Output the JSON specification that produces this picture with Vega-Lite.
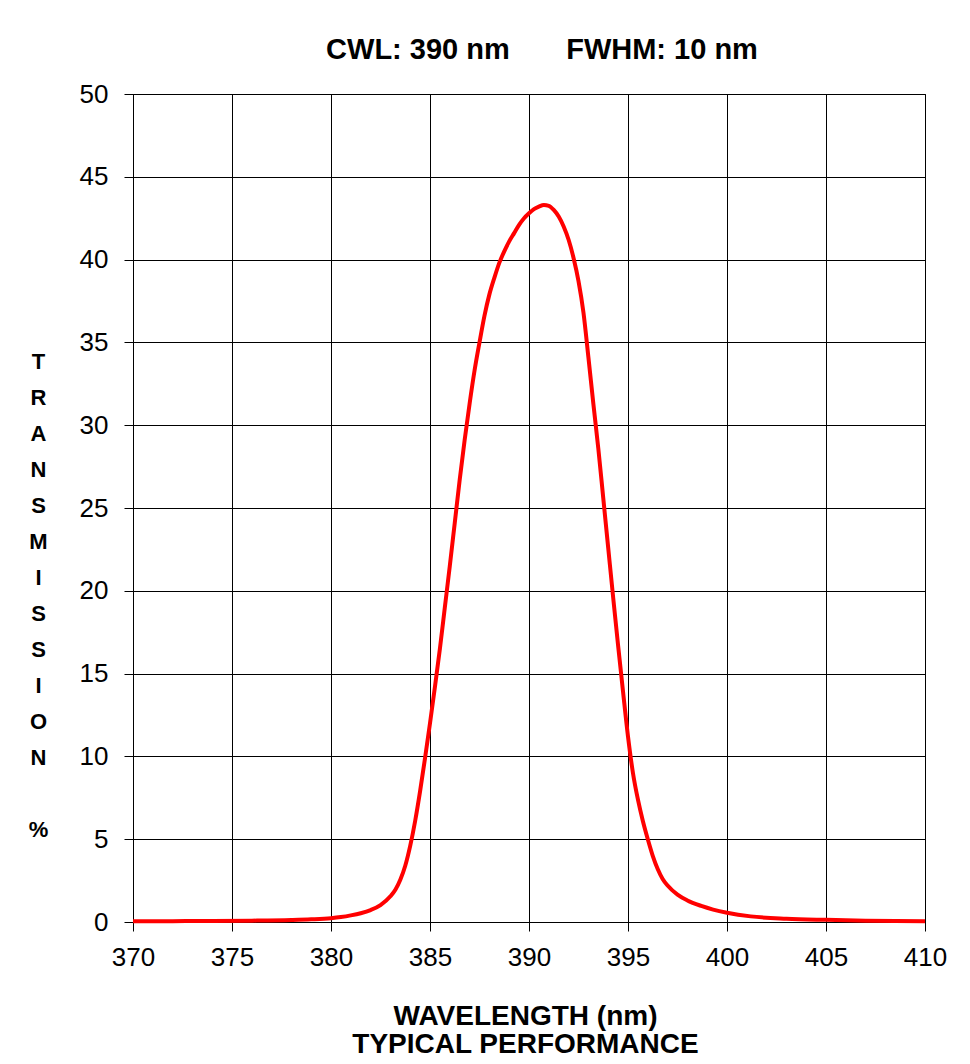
{
  "$schema": "https://vega.github.io/schema/vega-lite/v6.json",
  "width": 792,
  "height": 828,
  "autosize": {"type": "none"},
  "padding": {"left": 133, "top": 94, "right": 45, "bottom": 142},
  "background": "white",
  "title": {
    "text": "CWL: 390 nm\u00a0\u00a0\u00a0\u00a0\u00a0\u00a0\u00a0FWHM: 10 nm",
    "font": "Liberation Sans",
    "fontSize": 29,
    "fontWeight": "bold",
    "color": "black",
    "offset": 16,
    "dx": 13
  },
  "config": {
    "view": {"stroke": "black", "strokeWidth": 1},
    "axis": {
      "labelFont": "Liberation Sans",
      "labelFontSize": 26,
      "labelColor": "black",
      "titleFont": "Liberation Sans",
      "titleFontWeight": "bold",
      "titleColor": "black",
      "gridColor": "black",
      "gridOpacity": 1,
      "gridWidth": 1,
      "domainColor": "black",
      "tickColor": "black",
      "tickSize": 9
    }
  },
  "data": {
    "values": [
      {"wl": 370, "t": 0.04},
      {"wl": 372, "t": 0.05},
      {"wl": 374, "t": 0.06},
      {"wl": 376, "t": 0.08},
      {"wl": 378, "t": 0.12},
      {"wl": 379, "t": 0.16},
      {"wl": 380, "t": 0.23},
      {"wl": 380.5, "t": 0.3},
      {"wl": 381, "t": 0.4},
      {"wl": 381.5, "t": 0.53},
      {"wl": 382, "t": 0.72},
      {"wl": 382.5, "t": 1.02},
      {"wl": 383, "t": 1.55},
      {"wl": 383.25, "t": 1.95},
      {"wl": 383.5, "t": 2.55},
      {"wl": 383.75, "t": 3.4},
      {"wl": 384, "t": 4.6},
      {"wl": 384.25, "t": 6.1},
      {"wl": 384.5, "t": 7.9},
      {"wl": 384.75, "t": 9.9},
      {"wl": 385, "t": 12.0},
      {"wl": 385.25, "t": 14.2},
      {"wl": 385.5, "t": 16.5},
      {"wl": 385.75, "t": 19.0},
      {"wl": 386, "t": 21.5},
      {"wl": 386.25, "t": 24.1},
      {"wl": 386.5, "t": 26.7},
      {"wl": 386.75, "t": 29.1},
      {"wl": 387, "t": 31.3},
      {"wl": 387.25, "t": 33.3},
      {"wl": 387.5, "t": 35.0},
      {"wl": 387.75, "t": 36.6},
      {"wl": 388, "t": 37.9},
      {"wl": 388.25, "t": 38.9},
      {"wl": 388.5, "t": 39.8},
      {"wl": 388.75, "t": 40.5},
      {"wl": 389, "t": 41.1},
      {"wl": 389.25, "t": 41.6},
      {"wl": 389.5, "t": 42.1},
      {"wl": 389.75, "t": 42.5},
      {"wl": 390, "t": 42.8},
      {"wl": 390.25, "t": 43.05},
      {"wl": 390.5, "t": 43.2},
      {"wl": 390.75, "t": 43.3},
      {"wl": 391, "t": 43.25},
      {"wl": 391.25, "t": 43.0},
      {"wl": 391.5, "t": 42.6},
      {"wl": 391.75, "t": 42.0},
      {"wl": 392, "t": 41.2},
      {"wl": 392.25, "t": 40.1},
      {"wl": 392.5, "t": 38.7},
      {"wl": 392.75, "t": 36.8},
      {"wl": 393, "t": 34.1},
      {"wl": 393.25, "t": 31.3},
      {"wl": 393.5, "t": 28.6},
      {"wl": 393.75, "t": 25.6},
      {"wl": 394, "t": 22.6},
      {"wl": 394.25, "t": 19.6},
      {"wl": 394.5, "t": 16.7},
      {"wl": 394.75, "t": 13.9},
      {"wl": 395, "t": 11.2},
      {"wl": 395.25, "t": 9.0},
      {"wl": 395.5, "t": 7.4},
      {"wl": 395.75, "t": 6.1},
      {"wl": 396, "t": 5.0},
      {"wl": 396.25, "t": 4.0},
      {"wl": 396.5, "t": 3.2},
      {"wl": 396.75, "t": 2.6},
      {"wl": 397, "t": 2.2},
      {"wl": 397.5, "t": 1.65},
      {"wl": 398, "t": 1.3},
      {"wl": 398.7, "t": 0.97},
      {"wl": 399.3, "t": 0.75},
      {"wl": 400, "t": 0.56},
      {"wl": 401.2, "t": 0.34},
      {"wl": 403, "t": 0.2},
      {"wl": 405, "t": 0.13},
      {"wl": 407, "t": 0.08},
      {"wl": 410, "t": 0.05}
    ]
  },
  "mark": {"type": "line", "color": "#FF0000", "strokeWidth": 4, "interpolate": "monotone"},
  "encoding": {
    "x": {
      "field": "wl",
      "type": "quantitative",
      "scale": {"domain": [370, 410], "nice": false, "zero": false},
      "axis": {
        "values": [370, 375, 380, 385, 390, 395, 400, 405, 410],
        "labelPadding": 13,
        "labelFlush": false,
        "title": ["WAVELENGTH (nm)", "TYPICAL PERFORMANCE"],
        "titleFontSize": 28,
        "titleLineHeight": 28,
        "titlePadding": 32,
        "titleX": 392
      }
    },
    "y": {
      "field": "t",
      "type": "quantitative",
      "scale": {"domain": [0, 50], "nice": false},
      "axis": {
        "values": [0, 5, 10, 15, 20, 25, 30, 35, 40, 45, 50],
        "labelPadding": 16,
        "title": ["T", "R", "A", "N", "S", "M", "I", "S", "S", "I", "O", "N", "\u200b", "%"],
        "titleFontSize": 22,
        "titleAngle": 0,
        "titleLineHeight": 36,
        "titleAlign": "center",
        "titleBaseline": "top",
        "titleX": -95,
        "titleY": 257
      }
    }
  }
}
